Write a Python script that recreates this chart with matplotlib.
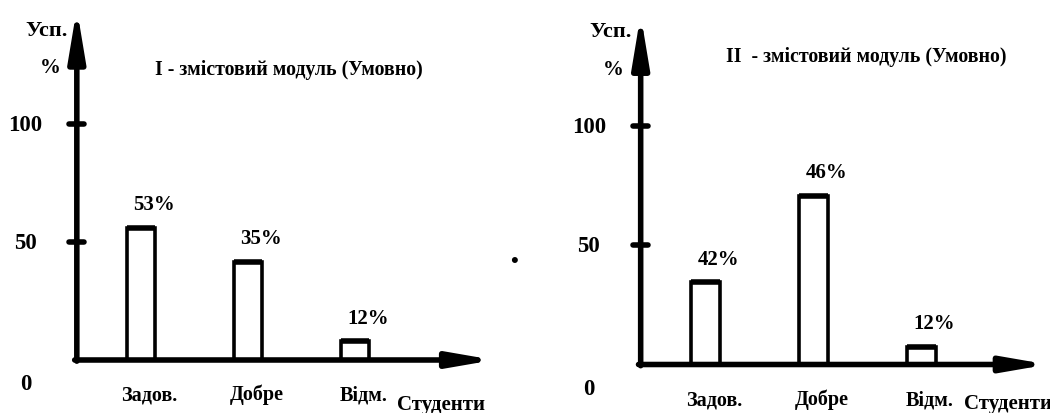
import matplotlib
matplotlib.use('Agg')
import matplotlib.pyplot as plt
import numpy as np

# data
categories = ['Задов.', 'Добре', 'Відм.']
bar_heights_1 = [56, 41.5, 8]        # drawn bar heights, module I
bar_labels_1 = ['53%', '35%', '12%']
bar_heights_2 = [34.5, 71, 7.5]      # drawn bar heights, module II
bar_labels_2 = ['42%', '46%', '12%']
y_ticks = [0, 50, 100]
title_1 = 'I - змістовий модуль (Умовно)'
title_2 = 'II  - змістовий модуль (Умовно)'

plt.rcParams['font.family'] = ['Liberation Serif', 'DejaVu Serif']
plt.rcParams['font.weight'] = 'bold'

fig = plt.figure(figsize=(10.5, 4.14), dpi=100)
fig.patch.set_facecolor('white')


def draw_panel(ax, heights, labels, title, title_xy, tip_x, tip_y, stud_y):
    x = np.arange(len(categories))
    ax_x = -0.6
    w = 0.27

    # bars, top edge drawn a bit heavier
    ax.bar(x, heights, width=w, facecolor='white', edgecolor='black',
           linewidth=2.6, zorder=2)
    ax.hlines(heights, x - w / 2, x + w / 2, color='black', lw=4, zorder=3)

    # axes with arrows
    ax.annotate('', xy=(ax_x, tip_y), xytext=(ax_x, -0.5),
                arrowprops=dict(arrowstyle='-|>,head_length=3.0,head_width=0.5',
                                lw=4, color='black', shrinkA=0, shrinkB=0,
                                mutation_scale=10))
    ax.annotate('', xy=(tip_x, 0), xytext=(ax_x - 0.02, 0),
                arrowprops=dict(arrowstyle='-|>,head_length=2.6,head_width=0.45',
                                lw=4, color='black', shrinkA=0, shrinkB=0,
                                mutation_scale=10), zorder=3)

    # tick dashes and labels
    for t in y_ticks:
        if t > 0:
            ax.plot([ax_x - 0.07, ax_x + 0.07], [t, t], color='black', lw=4,
                    solid_capstyle='round')
            ax.text(-1.08, t, str(t), ha='center', va='center', fontsize=16.5)
        else:
            ax.text(-1.08, -10, str(t), ha='center', va='center', fontsize=16.5)

    ax.text(-0.88, 140, 'Усп.', ha='center', va='center', fontsize=16)
    ax.text(-0.85, 124, '%', ha='center', va='center', fontsize=15)

    # value labels above bars
    for xi, h, lab in zip(x, heights, labels):
        ax.text(xi + 0.12, h + 10, lab, ha='center', va='center', fontsize=15)

    # category labels
    for xi, c in zip(x, categories):
        ax.text(xi + 0.08, -14.5, c, ha='center', va='center', fontsize=14.5)
    ax.text(2.8, stud_y, 'Студенти', ha='center', va='center', fontsize=15)

    ax.text(title_xy[0], title_xy[1], title, ha='center', va='center',
            fontsize=14.3)
    ax.axis('off')


ax1 = fig.add_axes([0, 0, 0.5, 1])
ax1.set_xlim(-1.318, 3.589)
ax1.set_ylim(-22.46, 152.97)
draw_panel(ax1, bar_heights_1, bar_labels_1, title_1, (1.38, 123.3),
           3.3, 149, -18.5)

ax2 = fig.add_axes([0.5, 0, 0.5, 1])
ax2.set_xlim(-1.671, 3.190)
ax2.set_ylim(-20.38, 153.57)
draw_panel(ax2, bar_heights_2, bar_labels_2, title_2, (1.49, 129.6),
           3.17, 147, -16.3)

# stray dot between the panels
fig.text(514 / 1050, 1 - 262 / 414, '•', ha='center', va='center', fontsize=16)

fig.savefig('out.png', dpi=100, facecolor='white')
